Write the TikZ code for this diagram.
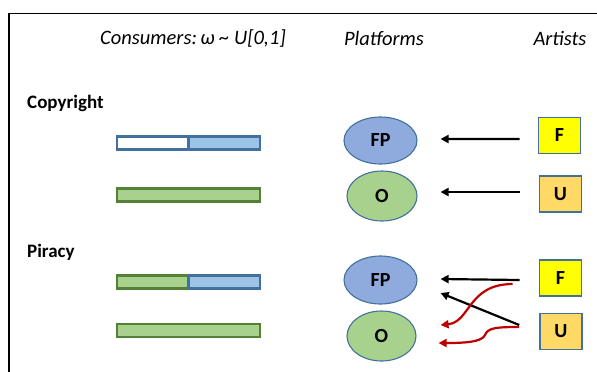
\documentclass[tikz,border=0pt]{standalone}
\usepackage{fontspec}
\setmainfont{Carlito}
\usepackage{xcolor}
\definecolor{edgeblue}{HTML}{41719C}
\definecolor{barblue}{HTML}{9DC3E6}
\definecolor{platblue}{HTML}{8FAADC}
\definecolor{leafgreen}{HTML}{A9D18E}
\definecolor{edgegreen}{HTML}{538135}
\definecolor{freeyellow}{HTML}{FFFF00}
\definecolor{unsigned}{HTML}{FFD966}
\definecolor{pirated}{HTML}{C00000}
\usepackage{tikz}
\usetikzlibrary{arrows.meta,shapes.geometric}

\begin{document}
\begin{tikzpicture}[x=1bp,y=-1bp,>=Stealth,every node/.style={font=\fontsize{20bp}{24bp}\selectfont\bfseries}]
\tikzset{
  heading/.style={font=\fontsize{20.5bp}{24bp}\selectfont\itshape},
  regime/.style={font=\fontsize{19bp}{22bp}\selectfont\bfseries,anchor=west,inner sep=0pt},
  plat/.style={ellipse,draw=edgeblue,line width=1.1bp,inner sep=0pt},
  artist/.style={rectangle,draw=edgeblue,line width=1.6bp,minimum width=42bp,minimum height=36bp,inner sep=0pt},
  segblue/.style={rectangle,draw=edgeblue,line width=2.4bp,minimum width=71.5bp,minimum height=13bp,inner sep=0pt},
  seggreen/.style={rectangle,draw=edgegreen,line width=2.4bp,fill=leafgreen,minimum height=13bp,inner sep=0pt},
  link/.style={line width=2.2bp,-{Triangle[length=8bp,width=8bp]}},
  pirate/.style={link,draw=pirated,pirated}
}
\useasboundingbox (0,0) rectangle (597,371);
\draw[line width=1.4bp] (9,372) -- (9,13.5) -- (598,13.5);

% column headings
\node[heading] (hcons) at (193,38) {Consumers:\,ω \textasciitilde{} U[0,1]};
\node[heading] (hplat) at (384,38) {Platforms};
\node[heading] (hart) at (560,38) {Artists};

% copyright regime
\node[regime] (copy) at (27,103) {Copyright};
\node[segblue,fill=white] (wA) at (152.75,143) {};
\node[segblue,fill=barblue] (bA) at (224.25,143) {};
\node[seggreen,minimum width=143bp] (gA) at (188.5,195) {};
\node[plat,fill=platblue,minimum width=73bp,minimum height=47bp] (pA) at (380.5,140.5) {FP};
\node[plat,fill=leafgreen,minimum width=70bp,minimum height=50bp] (oA) at (382,196) {O};
\node[artist,fill=freeyellow] (fA) at (559.5,135.5) {F};
\node[artist,fill=unsigned] (uA) at (560.5,194) {U};
\draw[link] ([shift={(-18,3.5)}]fA.west) -- ([shift={(23,-1.5)}]pA.east);
\draw[link] ([shift={(-19,-2)}]uA.west) -- ([shift={(23,-4)}]oA.east);

% piracy regime
\node[regime] (pir) at (27,252) {Piracy};
\node[seggreen,minimum width=71.5bp] (gB) at (152.75,282) {};
\node[segblue,fill=barblue] (bB) at (224.25,282) {};
\node[seggreen,minimum width=143bp] (hB) at (188.5,330.5) {};
\node[plat,fill=platblue,minimum width=73bp,minimum height=48bp] (pB) at (380.5,280) {FP};
\node[plat,fill=leafgreen,minimum width=69bp,minimum height=50bp] (oB) at (381.5,336) {O};
\node[artist,fill=freeyellow] (fB) at (560.5,278) {F};
\node[artist,fill=unsigned] (uB) at (561,331.5) {U};
\draw[link] ([shift={(-19,2)}]fB.west) -- ([shift={(23,-1)}]pB.east);
\draw[link] ([shift={(-20,-6.5)}]uB.west) -- ([shift={(23,13)}]pB.east);
\draw[pirate] ([shift={(-26,6)}]fB.west) .. controls +(-45,0) and +(30,-3) .. ([shift={(24,-11)}]oB.east);
\draw[pirate] ([shift={(-20,-4.5)}]uB.west) .. controls (495,327) and (488,328) .. (485,335)
  .. controls (482,342) and (465,343) .. ([shift={(22,7)}]oB.east);
\end{tikzpicture}
\end{document}
